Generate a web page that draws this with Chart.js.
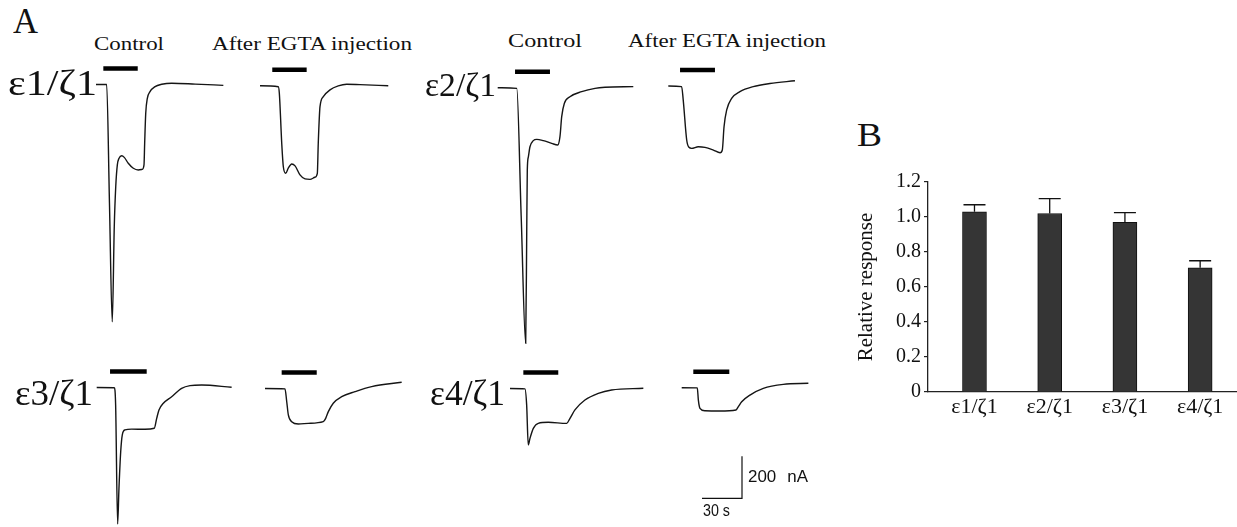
<!DOCTYPE html>
<html><head><meta charset="utf-8">
<script src="https://cdn.jsdelivr.net/npm/chart.js@4.4.1/dist/chart.umd.min.js"></script>
<style>
html,body{margin:0;padding:0;background:#fff;}
body{width:1237px;height:527px;position:relative;overflow:hidden;}
canvas.abs{position:absolute;}
.t{position:absolute;white-space:nowrap;color:#111;transform-origin:0 0;}
</style></head><body>
<script>
// ================= DATA =================
// Panel A: membrane current traces, pairs of [time (s), current (nA)];
// time from start of record, current relative to holding baseline (inward = negative)
const e1Control = [[-3,0],[0,0],[5,0],[7.1,-565],[9.2,-1130],[10.7,-677],[11.8,-487],[13.0,-383],[14.3,-351],[16.3,-339],[18.2,-347],[21.2,-375],[25.0,-399],[28.7,-407],[31.7,-404],[33.0,-383],[33.5,-280],[34.3,-137],[35.5,-66],[37.5,-34],[41.3,-10],[46.3,1],[53.8,6],[71.3,2],[92.5,-4]];
const e1EGTA = [[0,0],[13.7,-5],[14.5,-36],[16.3,-274],[17.5,-386],[19.3,-417],[21.2,-393],[23.8,-373],[26.3,-382],[30.0,-425],[33.8,-444],[37.5,-446],[41.2,-436],[43.0,-417],[43.7,-274],[45.0,-100],[47.5,-52],[52.5,-20],[58.7,-1],[65.0,7],[75.0,5],[96.2,0]];
const e2Control = [[-3,0],[0,0],[11.3,-3],[14.6,-610],[18.0,-1217],[18.8,-662],[19.2,-392],[20.0,-329],[21.2,-281],[23.7,-252],[26.3,-246],[31.2,-252],[37.5,-265],[42.0,-273],[43.7,-233],[45.0,-138],[47.0,-74],[51.2,-43],[60.0,-19],[70.0,-3],[77.5,2],[98.7,5]];
const e2EGTA = [[0,0],[10.0,-3],[11.2,-67],[13.8,-257],[15.5,-292],[17.5,-297],[22.5,-289],[27.5,-292],[33.8,-305],[38.8,-318],[40.5,-305],[41.8,-194],[43.8,-114],[47.5,-59],[53.7,-27],[63.7,-3],[76.2,12],[95.0,25]];
const e3Control = [[0,0],[13.2,-1],[14.2,-83],[15.7,-650],[16.7,-480],[18.0,-306],[19.2,-226],[21.2,-202],[26.2,-198],[36.2,-199],[43.2,-194],[45.0,-147],[46.7,-107],[50.0,-75],[56.2,-44],[63.7,-4],[70.0,9],[78.7,12],[101.2,1]];
const e3EGTA = [[0,0],[15.0,-2],[16.3,-63],[17.5,-126],[20.0,-158],[25.0,-169],[32.5,-166],[43.7,-158],[45.5,-142],[47.5,-110],[51.2,-70],[57.5,-39],[67.5,-15],[80.0,9],[102.5,30]];
const e4Control = [[0,0],[11.2,-2],[12.5,-79],[13.7,-269],[15.0,-237],[17.5,-190],[21.2,-166],[28.7,-161],[42.5,-166],[45.0,-142],[48.7,-102],[56.2,-55],[66.2,-23],[76.2,-7],[100.0,1]];
const e4EGTA = [[0,0],[11.7,-1],[12.5,-59],[13.7,-98],[17.5,-110],[28.7,-111],[40.7,-106],[42.5,-90],[45.0,-67],[51.2,-35],[61.2,-3],[76.2,16],[95.0,21]];

// Agonist application periods (black bars), [start s, end s]
const e1ControlApp = [2.5, 28.3];
const e1EGTAApp = [9.2, 35.0];
const e2ControlApp = [10.0, 36.2];
const e2EGTAApp = [8.8, 35.0];
const e3ControlApp = [10.0, 37.5];
const e3EGTAApp = [12.5, 38.8];
const e4ControlApp = [10.0, 36.2];
const e4EGTAApp = [8.7, 35.7];

// Calibration bar
const scaleBarTime = 30;     // s
const scaleBarCurrent = 200; // nA

// Panel B
const categories = ['ε1/ζ1', 'ε2/ζ1', 'ε3/ζ1', 'ε4/ζ1'];
const relativeResponse = [1.03, 1.02, 0.97, 0.71];
const responseSEM = [0.04, 0.085, 0.055, 0.04];
const yTicks = [0, 0.2, 0.4, 0.6, 0.8, 1.0, 1.2];

// ================= LAYOUT / STYLE =================
const PX_PER_S = 40 / 30;
const PX_PER_NA = 42 / 200;
const APP_LEVEL = 76; // nA above baseline where the application bar is drawn
const SERIF = 'Liberation Serif, Times New Roman, serif';
const SANS = 'Liberation Sans, Arial, sans-serif';

const tracePanels = [
  {trace: e1Control, app: e1ControlApp, origin: [100, 84.5]},
  {trace: e1EGTA, app: e1EGTAApp, origin: [260, 85.7]},
  {trace: e2Control, app: e2ControlApp, origin: [501.7, 87.7]},
  {trace: e2EGTA, app: e2EGTAApp, origin: [668.3, 86]},
  {trace: e3Control, app: e3ControlApp, origin: [96.7, 387.5]},
  {trace: e3EGTA, app: e3EGTAApp, origin: [265, 388.5]},
  {trace: e4Control, app: e4ControlApp, origin: [510, 388.5]},
  {trace: e4EGTA, app: e4EGTAApp, origin: [681.7, 387.7]},
];

Chart.defaults.color = '#111';
Chart.defaults.font.family = SERIF;

function plotBox(origin, tBefore, tAfter, iAbove, iBelow, datasets) {
  const [ox, oy] = origin;
  const left = Math.round(ox - tBefore * PX_PER_S);
  const top = Math.round(oy - iAbove * PX_PER_NA);
  const w = Math.round((tBefore + tAfter) * PX_PER_S);
  const h = Math.round((iAbove + iBelow) * PX_PER_NA);
  const xMin = (left - ox) / PX_PER_S, xMax = xMin + w / PX_PER_S;
  const yMax = (oy - top) / PX_PER_NA, yMin = yMax - h / PX_PER_NA;
  const c = document.createElement('canvas');
  c.width = w; c.height = h; c.className = 'abs';
  c.style.left = left + 'px'; c.style.top = top + 'px';
  c.style.width = w + 'px'; c.style.height = h + 'px';
  document.body.appendChild(c);
  new Chart(c, {
    type: 'line',
    data: {datasets},
    options: {
      responsive: false, animation: false, events: [],
      layout: {padding: 0},
      plugins: {legend: {display: false}, tooltip: {enabled: false}},
      scales: {
        x: {type: 'linear', display: false, min: xMin, max: xMax},
        y: {type: 'linear', display: false, min: yMin, max: yMax}
      }
    }
  });
}

tracePanels.forEach(p => {
  plotBox(p.origin, 6, 108, 130, 1420, [
    {data: p.trace.map(([t, i]) => ({x: t, y: i})), borderColor: '#151515', borderWidth: 1.4,
     cubicInterpolationMode: 'monotone', pointRadius: 0, fill: false},
    {data: p.app.map(t => ({x: t, y: APP_LEVEL})), borderColor: '#000', borderWidth: 4.5,
     pointRadius: 0, borderCapStyle: 'butt', fill: false}
  ]);
});

// calibration bar (corner at its lower right)
plotBox([742, 498.3], 36, 6, 230, 10, [
  {data: [{x: -scaleBarTime, y: 0}, {x: 0, y: 0}, {x: 0, y: scaleBarCurrent}],
   borderColor: '#111', borderWidth: 1.2, pointRadius: 0, tension: 0, fill: false}
]);

// ---------- text ----------
function addText(txt, left, right, baseline, size, family, extra) {
  const d = document.createElement('div');
  d.className = 't';
  d.textContent = txt;
  d.style.fontFamily = family || SERIF;
  d.style.fontSize = size + 'px';
  d.style.lineHeight = size + 'px';
  const asc = (family === SANS) ? 0.8465 : 0.8375;
  d.style.left = left + 'px';
  d.style.top = (baseline - asc * size) + 'px';
  if (extra) Object.assign(d.style, extra);
  document.body.appendChild(d);
  const w = d.getBoundingClientRect().width;
  d.style.transform = 'scaleX(' + ((right - left) / w) + ')';
}
addText('A', 13, 38, 33, 35);
addText('Control', 94, 164, 50, 18);
addText('After EGTA injection', 212, 412, 50, 18);
addText('Control', 508, 582, 47, 18);
addText('After EGTA injection', 628, 826, 47, 18);
addText(categories[0], 8, 97, 95.5, 35);
addText(categories[1], 425, 496, 96.5, 33);
addText(categories[2], 15, 93, 405, 35);
addText(categories[3], 430, 505, 405.5, 35);
addText('200 nA', 748, 808, 482.7, 16, SANS, {wordSpacing: '6px'});
addText('30 s', 703, 730, 516.7, 16, SANS);
addText('B', 857, 882, 147, 33);

// ---------- Panel B ----------
const errorBarPlugin = {
  id: 'errbars',
  afterDatasetsDraw(chart) {
    const {ctx, scales: {x, y}} = chart;
    ctx.save();
    ctx.strokeStyle = '#111'; ctx.lineWidth = 1.3;
    relativeResponse.forEach((v, i) => {
      const px = x.getPixelForValue(i);
      const y0 = y.getPixelForValue(v);
      const y1 = y.getPixelForValue(v + responseSEM[i]);
      ctx.beginPath();
      ctx.moveTo(px, y0); ctx.lineTo(px, y1);
      ctx.moveTo(px - 11, y1); ctx.lineTo(px + 11, y1);
      ctx.stroke();
    });
    ctx.restore();
  }
};

const bc = document.createElement('canvas');
bc.width = 387; bc.height = 320; bc.className = 'abs';
bc.style.left = '850px'; bc.style.top = '120px';
bc.style.width = '387px'; bc.style.height = '320px';
document.body.appendChild(bc);
new Chart(bc, {
  type: 'bar',
  data: {datasets: [{
    data: relativeResponse.map((v, i) => ({x: i, y: v})),
    backgroundColor: '#353535', borderColor: '#111', borderWidth: 1, barThickness: 24
  }]},
  options: {
    responsive: false, animation: false, events: [],
    layout: {padding: {top: 62, left: 0, right: 0, bottom: 0}},
    plugins: {legend: {display: false}, tooltip: {enabled: false}},
    scales: {
      x: {
        type: 'linear', min: -0.618, max: 3.49, offset: false,
        afterBuildTicks: s => { s.ticks = categories.map((_, i) => ({value: i})); },
        ticks: {callback: v => categories[v], font: {size: 22}, padding: 2, autoSkip: false, maxRotation: 0, color: '#111'},
        grid: {display: false, drawTicks: false, offset: false},
        border: {display: true, color: '#222', width: 1.3},
        afterFit: s => { s.height = 48; }
      },
      y: {
        min: 0, max: 1.2,
        afterBuildTicks: s => { s.ticks = yTicks.map(v => ({value: v})); },
        ticks: {callback: v => v === 0 ? '0' : v.toFixed(1), font: {size: 20}, padding: 3, color: '#111'},
        grid: {drawOnChartArea: false, drawTicks: true, tickLength: 4, color: '#222', lineWidth: 1.2},
        border: {display: true, color: '#222', width: 1.3},
        title: {display: true, text: 'Relative response', font: {size: 21}, color: '#111', padding: 4},
        afterFit: s => { s.width = 78; }
      }
    }
  },
  plugins: [errorBarPlugin]
});
</script>
</body></html>
